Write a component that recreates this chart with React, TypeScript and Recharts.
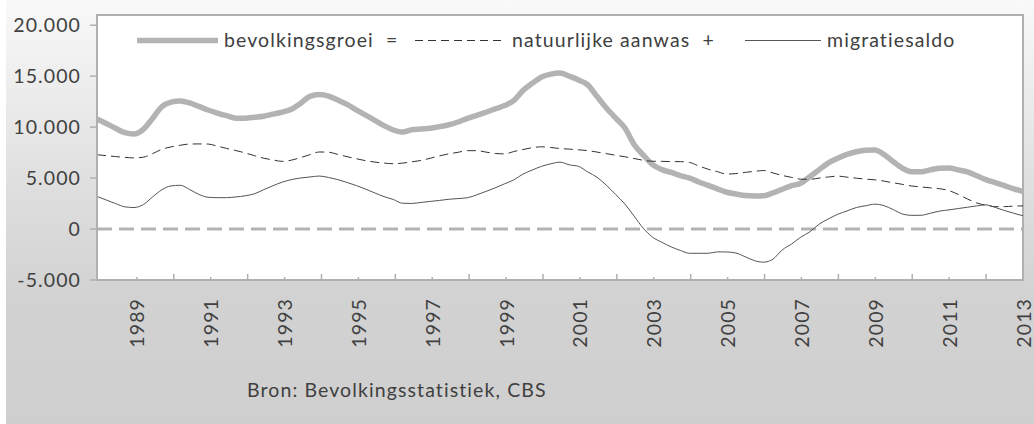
import { LineChart, Line, XAxis, YAxis, ReferenceLine, ReferenceArea, Legend } from "recharts";

// Kwartaalwaarden (12-maands gemiddelden), december 1987 t/m januari 2013
const periodStart = 1987.92;
const periodEnd = 2013;

const bevolkingsgroei = [
  10800, 10350, 9880, 9450, 9320, 9780, 10850, 12000, 12450, 12570,
  12380, 12030, 11680, 11380, 11120, 10880, 10880, 10970, 11070, 11270,
  11470, 11750, 12350, 13020, 13200, 13050, 12650, 12230, 11700, 11180,
  10670, 10150, 9720, 9510, 9750, 9820, 9890, 10050, 10230, 10500,
  10860, 11160, 11460, 11790, 12110, 12600, 13600, 14300, 14920, 15200,
  15300, 15000, 14630, 14140, 13000, 11880, 10900, 9920, 8300, 7250,
  6320, 5830, 5550, 5250, 4990, 4620, 4280, 3940, 3610, 3440,
  3290, 3250, 3270, 3550, 3900, 4250, 4500, 5150, 5830, 6500,
  6950, 7330, 7580, 7720, 7750, 7300, 6600, 5950, 5620, 5620,
  5800, 5970, 6000, 5800, 5600, 5230, 4850, 4550, 4250, 3950,
  3680,
];

const natuurlijkeAanwas = [
  7290, 7200, 7110, 7030, 6980, 7050, 7400, 7820, 8060, 8220,
  8340, 8350, 8340, 8130, 7910, 7700, 7470, 7200, 6950, 6780,
  6640, 6760, 7010, 7300, 7560, 7540, 7320, 7100, 6900, 6710,
  6570, 6470, 6410, 6470, 6590, 6730, 6950, 7180, 7380, 7530,
  7690, 7690, 7550, 7410, 7370, 7600, 7800, 7980, 8070, 8000,
  7900, 7840, 7770, 7700, 7550, 7400, 7240, 7090, 6920, 6750,
  6650, 6640, 6620, 6610, 6530, 6180, 5870, 5630, 5390, 5440,
  5560, 5660, 5740, 5500, 5260, 5070, 4890, 4880, 5000, 5110,
  5190, 5090, 4990, 4900, 4830, 4700, 4540, 4380, 4220, 4130,
  4040, 3960, 3770, 3400, 2950, 2560, 2340, 2200, 2200, 2250,
  2270,
];

const migratiesaldo = [
  3200, 2850, 2500, 2180, 2110, 2400, 3150, 3850, 4230, 4290,
  3880, 3400, 3120, 3080, 3080, 3150, 3260, 3460, 3860, 4250,
  4600, 4850, 5010, 5110, 5200, 5060, 4850, 4570, 4270, 3920,
  3540, 3180, 2900, 2530, 2510, 2610, 2710, 2810, 2920, 2990,
  3070, 3350, 3690, 4040, 4430, 4820, 5390, 5790, 6150, 6400,
  6560, 6300, 6150, 5600, 5080, 4300, 3400, 2460, 1270, 70,
  -800, -1300, -1750, -2100, -2380, -2380, -2380, -2240, -2250, -2350,
  -2720, -3100, -3250, -2950, -2050, -1470, -800, -260, 490, 1000,
  1450, 1780, 2110, 2280, 2440, 2290, 1900, 1470, 1340, 1350,
  1550, 1760, 1880, 2010, 2140, 2270, 2370, 2120, 1820, 1550,
  1300,
];

const yearTicks = [
  1989, 1990, 1991, 1992, 1993, 1994, 1995, 1996, 1997, 1998, 1999, 2000, 2001,
  2002, 2003, 2004, 2005, 2006, 2007, 2008, 2009, 2010, 2011, 2012, 2013,
];
const valueTicks = [-5000, 0, 5000, 10000, 15000, 20000];
const valueMin = -5000;
const valueMax = 21000;

const data = bevolkingsgroei.map((v, i) => ({
  t: periodStart + (i * (periodEnd - periodStart)) / (bevolkingsgroei.length - 1),
  groei: v,
  aanwas: natuurlijkeAanwas[i],
  migratie: migratiesaldo[i],
}));

const FONT = "Lato, 'Open Sans', sans-serif";
const TEXT = "#404040";
const AXIS = "#b0b0b0";
const FS = 19.5;
const LS = 1.1;

const fmt = (v: number) => {
  const s = Math.abs(v).toString().replace(/\B(?=(\d{3})+(?!\d))/g, ".");
  return (v < 0 ? "-" : "") + s;
};

function YearTick(props: any) {
  const { x, y, payload } = props;
  const year = payload.value as number;
  const labelled = year % 2 === 1;
  const ty = y + 18;
  return (
    <g>
      <line x1={x} y1={y} x2={x} y2={y - (labelled ? 3 : 6)} stroke={AXIS} strokeWidth={1.5} />
      {labelled && (
        <text
          x={x}
          y={ty}
          transform={`rotate(-90 ${x} ${ty})`}
          textAnchor="end"
          dominantBaseline="central"
          fill={TEXT}
          fontSize={FS}
          fontFamily={FONT}
          letterSpacing={LS}
        >
          {year}
        </text>
      )}
    </g>
  );
}

const legendItems = [
  { label: "bevolkingsgroei  =", left: 137, width: 81, stroke: "#b3b3b3", sw: 5.5, dash: undefined },
  { label: "natuurlijke aanwas  +", left: 415, width: 91, stroke: "#333333", sw: 1, dash: "8 5" },
  { label: "migratiesaldo", left: 745, width: 76, stroke: "#555555", sw: 1, dash: undefined },
];

function LegendContent() {
  return (
    <div style={{ position: "relative", height: 0 }}>
      {legendItems.map((it) => (
        <div key={it.label} style={{ position: "absolute", left: it.left, top: 29, display: "flex", alignItems: "flex-start", whiteSpace: "pre" }}>
          <svg width={it.width} height={22} style={{ display: "block" }}>
            <line x1={0} y1={11.5} x2={it.width} y2={11.5} stroke={it.stroke} strokeWidth={it.sw} strokeDasharray={it.dash} />
          </svg>
          <span style={{ marginLeft: 6, fontFamily: FONT, fontSize: FS, letterSpacing: LS, lineHeight: "22px", color: TEXT }}>
            {it.label}
          </span>
        </div>
      ))}
    </div>
  );
}

export default function App() {
  return (
    <div style={{ position: "absolute", left: 0, top: 0, width: 1034, height: 424, background: "#ffffff" }}>
      <div
        style={{
          position: "absolute",
          left: 6,
          top: 0,
          width: 1028,
          height: 424,
          background: "linear-gradient(to bottom, #f9f9f9 0%, #dedede 45%, #d2d2d2 70%, #cfcfcf 100%)",
        }}
      />
      <div style={{ position: "absolute", left: 0, top: 0 }}>
        <LineChart width={1034} height={424} data={data} margin={{ top: 15, right: 11, bottom: 0, left: 0 }}>
          <ReferenceArea
            x1={periodStart}
            x2={periodEnd}
            y1={valueMin}
            y2={valueMax}
            fill="#ffffff"
            fillOpacity={1}
            stroke={AXIS}
            strokeWidth={2}
            ifOverflow="visible"
          />
          <XAxis
            dataKey="t"
            type="number"
            domain={[periodStart, periodEnd]}
            ticks={yearTicks}
            interval={0}
            height={144}
            tickSize={0}
            tickMargin={0}
            tickLine={false}
            axisLine={{ stroke: AXIS, strokeWidth: 2 }}
            tick={<YearTick />}
          />
          <YAxis
            type="number"
            domain={[valueMin, valueMax]}
            ticks={valueTicks}
            interval={0}
            width={97}
            tickSize={7}
            tickMargin={9}
            tickLine={{ stroke: AXIS, strokeWidth: 1.5 }}
            axisLine={{ stroke: AXIS, strokeWidth: 2 }}
            tickFormatter={fmt}
            tick={{ fill: TEXT, fontSize: FS, fontFamily: FONT, letterSpacing: LS }}
          />
          <ReferenceLine y={0} stroke="#b3b3b3" strokeWidth={3} strokeDasharray="15 7" />
          <Legend content={<LegendContent />} wrapperStyle={{ left: 0, top: 0, width: 1034, height: 0 }} />
          <Line
            type="monotone"
            dataKey="groei"
            name="bevolkingsgroei"
            stroke="#b3b3b3"
            strokeWidth={5.5}
            dot={false}
            isAnimationActive={false}
          />
          <Line
            type="monotone"
            dataKey="aanwas"
            name="natuurlijke aanwas"
            stroke="#333333"
            strokeWidth={1}
            strokeDasharray="9 5"
            dot={false}
            isAnimationActive={false}
          />
          <Line
            type="monotone"
            dataKey="migratie"
            name="migratiesaldo"
            stroke="#555555"
            strokeWidth={1}
            dot={false}
            isAnimationActive={false}
          />
        </LineChart>
      </div>
      <div
        style={{
          position: "absolute",
          left: 247,
          top: 379,
          fontFamily: FONT,
          fontSize: FS,
          letterSpacing: LS,
          lineHeight: "22px",
          color: TEXT,
          whiteSpace: "pre",
        }}
      >
        Bron: Bevolkingsstatistiek, CBS
      </div>
    </div>
  );
}
